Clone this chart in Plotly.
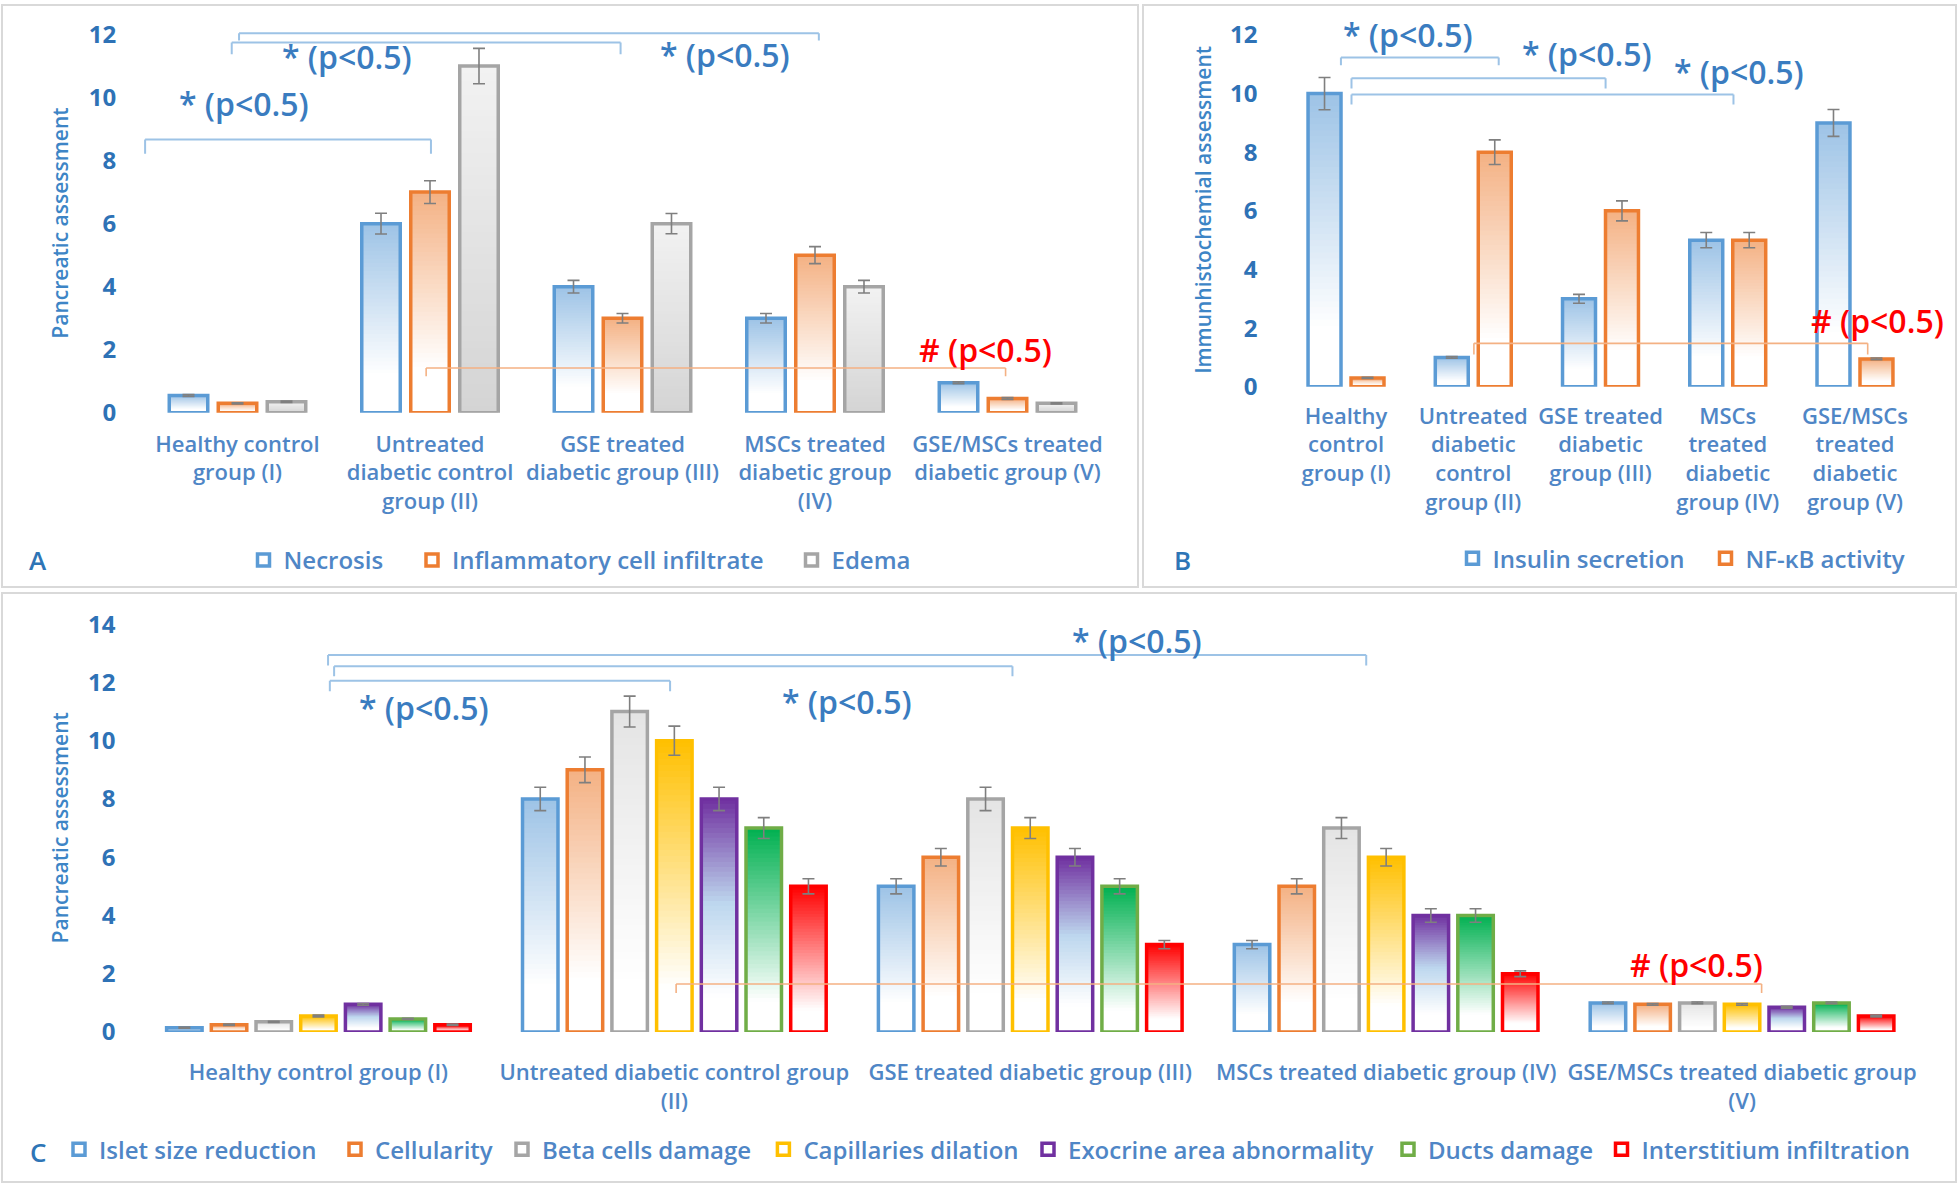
import plotly.graph_objects as go

# ---------------- data ----------------
GROUPS = ["Healthy control group (I)", "Untreated diabetic control group (II)",
          "GSE treated diabetic group (III)", "MSCs treated diabetic group (IV)",
          "GSE/MSCs treated diabetic group (V)"]

TICKS_A = ["Healthy control<br>group (I)", "Untreated<br>diabetic control<br>group (II)",
           "GSE treated<br>diabetic group (III)", "MSCs treated<br>diabetic group<br>(IV)",
           "GSE/MSCs treated<br>diabetic group (V)"]
TICKS_B = ["Healthy<br>control<br>group (I)", "Untreated<br>diabetic<br>control<br>group (II)",
           "GSE treated<br>diabetic<br>group (III)", "MSCs<br>treated<br>diabetic<br>group (IV)",
           "GSE/MSCs<br>treated<br>diabetic<br>group (V)"]
TICKS_C = ["Healthy control group (I)", "Untreated diabetic control group<br>(II)",
           "GSE treated diabetic group (III)", "MSCs treated diabetic group (IV)",
           "GSE/MSCs treated diabetic group<br>(V)"]

Y_TICKS_A = [0, 2, 4, 6, 8, 10, 12]
Y_TICKS_B = [0, 2, 4, 6, 8, 10, 12]
Y_TICKS_C = [0, 2, 4, 6, 8, 10, 12, 14]

# Panel A
SERIES_A = ["Necrosis", "Inflammatory cell infiltrate", "Edema"]
NECROSIS = [0.55, 6, 4, 3, 0.95]
NECROSIS_ERR = [0.03, 0.33, 0.2, 0.15, 0.03]
INFLAM = [0.3, 7, 3, 5, 0.45]
INFLAM_ERR = [0.02, 0.36, 0.15, 0.27, 0.03]
EDEMA = [0.35, 11, 6, 4, 0.3]
EDEMA_ERR = [0.02, 0.56, 0.32, 0.2, 0.02]

# Panel B
SERIES_B = ["Insulin secretion", "NF-κB activity"]
INSULIN = [10, 1, 3, 5, 9]
INSULIN_ERR = [0.55, 0.03, 0.15, 0.26, 0.46]
NFKB = [0.3, 8, 6, 5, 0.95]
NFKB_ERR = [0.02, 0.42, 0.34, 0.26, 0.03]

# Panel C
SERIES_C = ["Islet size reduction", "Cellularity", "Beta cells damage", "Capillaries dilation",
            "Exocrine area abnormality", "Ducts damage", "Interstitium infiltration"]
ISLET = [0.15, 8, 5, 3, 1.0]
ISLET_ERR = [0.02, 0.4, 0.26, 0.14, 0.03]
CELLULARITY = [0.25, 9, 6, 5, 0.95]
CELL_ERR = [0.02, 0.44, 0.3, 0.26, 0.03]
BETA = [0.35, 11, 8, 7, 1.0]
BETA_ERR = [0.02, 0.53, 0.4, 0.36, 0.03]
CAPILL = [0.55, 10, 7, 6, 0.95]
CAPILL_ERR = [0.03, 0.5, 0.36, 0.3, 0.03]
EXOCRINE = [0.95, 8, 6, 4, 0.85]
EXO_ERR = [0.03, 0.4, 0.3, 0.23, 0.03]
DUCTS = [0.45, 7, 5, 4, 1.0]
DUCTS_ERR = [0.02, 0.36, 0.26, 0.23, 0.03]
INTERST = [0.25, 5, 3, 2, 0.55]
INTERST_ERR = [0.02, 0.26, 0.14, 0.1, 0.03]

SIG_TEXT = "* (p&lt;0.5)"
HASH_TEXT = "# (p&lt;0.5)"

# ---------------- styles ----------------
FONT = "Open Sans"
BLUE, ORANGE, GRAY = "#5b9bd5", "#ed7d31", "#a5a5a5"
YELLOW, PURPLE, GREEN, RED = "#ffc000", "#7030a0", "#70ad47", "#ff0000"
G_BLUE = [(0, "#ffffff"), (0.2, "#ffffff"), (1, "#9dc3e6")]
G_ORANGE = [(0, "#ffffff"), (0.2, "#ffffff"), (1, "#f4b183")]
G_GRAY_A = [(0, "#d4d4d4"), (1, "#f2f2f2")]
G_GRAY_C = [(0, "#ffffff"), (0.15, "#ffffff"), (1, "#e4e4e4")]
G_YELLOW = [(0, "#ffffff"), (0.15, "#ffffff"), (1, "#ffc000")]
G_PURPLE = [(0, "#ffffff"), (0.15, "#ffffff"), (0.55, "#bdd7ee"), (1, "#7030a0")]
G_GREEN = [(0, "#ffffff"), (0.15, "#ffffff"), (1, "#00b050")]
G_RED = [(0, "#ffffff"), (0.15, "#ffffff"), (1, "#ff0000")]

TICK_NUM_COLOR = "#2e72b6"
LABEL_COLOR = "#4f86c6"
TITLE_COLOR = "#3d85c6"
SIG_COLOR = "#3a7cc0"
BRACKET_BLUE = "#9dc3e6"
BRACKET_RED = "#f4b183"


def _rgb(h):
    h = h.lstrip("#")
    return tuple(int(h[i:i + 2], 16) for i in (0, 2, 4))


def grad_color(stops, f):
    for (p0, c0), (p1, c1) in zip(stops[:-1], stops[1:]):
        if p0 <= f <= p1:
            t = 0 if p1 == p0 else (f - p0) / (p1 - p0)
            a, b = _rgb(c0), _rgb(c1)
            return "rgb(%d,%d,%d)" % tuple(round(a[i] + (b[i] - a[i]) * t) for i in range(3))
    return stops[-1][1]


fig = go.Figure()
N_SEG = 48


def add_series(name, vals, errs, line_color, stops, idx, n, slot, width, xa, ya, legend, lw=3.5):
    offset = (idx - (n - 1) / 2) * slot - width / 2
    for k in range(N_SEG):
        base = [v * k / N_SEG for v in vals]
        h = [v - b for v, b in zip(vals, base)]
        fig.add_trace(go.Bar(
            x=GROUPS, y=h, base=base, offset=offset, width=width,
            marker=dict(color=grad_color(stops, (k + 0.5) / N_SEG), line=dict(width=0)),
            xaxis=xa, yaxis=ya, showlegend=False, hoverinfo="skip"))
    fig.add_trace(go.Bar(
        x=GROUPS, y=vals, name=name, offset=offset, width=width,
        marker=dict(color="rgba(255,255,255,0)", line=dict(color=line_color, width=lw)),
        error_y=dict(type="data", array=errs, color="#7f7f7f", thickness=1.6, width=6),
        xaxis=xa, yaxis=ya, legend=legend, showlegend=True))


W, H = 1959, 1200


def px_x(p):
    return p / W


def px_y(p):
    return 1 - p / H


# one legend per entry, placed at the reference's legend-square centres
LEG_A = [(262.5, 566), (431, 566), (810.5, 566)]
LEG_B = [(1471.5, 564), (1724.5, 564)]
LEG_C = [(78, 1164), (354, 1164), (521, 1164), (782.4, 1164), (1047, 1164), (1407, 1164),
         (1620.5, 1164)]
legends = {}
leg_count = [0]


def new_legend(cx, cy):
    leg_count[0] += 1
    key = "legend" if leg_count[0] == 1 else "legend%d" % leg_count[0]
    legends[key] = dict(orientation="h", x=px_x(cx - 19), y=px_y(cy), xanchor="left",
                        yanchor="middle", bgcolor="rgba(0,0,0,0)",
                        font=dict(family=FONT, size=24, color=LABEL_COLOR, weight=600))
    return key


# Panel A
for i, (nm, v, e, c, g) in enumerate(zip(
        SERIES_A, [NECROSIS, INFLAM, EDEMA], [NECROSIS_ERR, INFLAM_ERR, EDEMA_ERR],
        [BLUE, ORANGE, GRAY], [G_BLUE, G_ORANGE, G_GRAY_A])):
    add_series(nm, v, e, c, g, i, 3, 0.2545, 0.2, "x", "y", new_legend(*LEG_A[i]))

# Panel B
for i, (nm, v, e, c, g) in enumerate(zip(
        SERIES_B, [INSULIN, NFKB], [INSULIN_ERR, NFKB_ERR], [BLUE, ORANGE], [G_BLUE, G_ORANGE])):
    add_series(nm, v, e, c, g, i, 2, 0.3378, 0.259, "x2", "y2", new_legend(*LEG_B[i]))

# Panel C
for i, (nm, v, e, c, g) in enumerate(zip(
        SERIES_C, [ISLET, CELLULARITY, BETA, CAPILL, EXOCRINE, DUCTS, INTERST],
        [ISLET_ERR, CELL_ERR, BETA_ERR, CAPILL_ERR, EXO_ERR, DUCTS_ERR, INTERST_ERR],
        [BLUE, ORANGE, GRAY, YELLOW, PURPLE, GREEN, RED],
        [G_BLUE, G_ORANGE, G_GRAY_C, G_YELLOW, G_PURPLE, G_GREEN, G_RED])):
    add_series(nm, v, e, c, g, i, 7, 0.1256, 0.0997, "x3", "y3", new_legend(*LEG_C[i]))


def xaxis(domain, anchor, ticks, standoff):
    return dict(domain=domain, anchor=anchor, type="category", range=[-0.5, 4.5],
                tickmode="array", tickvals=GROUPS, ticktext=ticks,
                showgrid=False, zeroline=False, showline=False, ticks="",
                ticklabelstandoff=standoff,
                tickfont=dict(family=FONT, size=22, color=LABEL_COLOR, weight=600))


def yaxis(domain, anchor, rng, tickvals, standoff):
    return dict(domain=domain, anchor=anchor, range=rng, tickmode="array", tickvals=tickvals,
                showgrid=False, zeroline=False, showline=False, ticks="",
                ticklabelstandoff=standoff,
                tickfont=dict(family=FONT, size=24, color=TICK_NUM_COLOR, weight=700))


shapes = []
# panel frames
for x0, y0, x1, y1 in [(2, 2, 1138, 593), (1143, 2, 1956, 593), (2, 599, 1956, 1197)]:
    shapes.append(dict(type="rect", xref="paper", yref="paper",
                       x0=px_x(x0), x1=px_x(x1), y0=px_y(y1), y1=px_y(y0),
                       line=dict(color="#d9d9d9", width=2), layer="below"))

# significance brackets: (xref, yref, x0, x1, y, y_tick_end, color)
BRACKETS = [
    ("x", "y", -0.48, 1.005, 8.67, 8.22, BRACKET_BLUE),
    ("x", "y", -0.03, 1.99, 11.75, 11.375, BRACKET_BLUE),
    ("x", "y", 0.008, 3.02, 12.04, 11.81, BRACKET_BLUE),
    ("x", "y", 0.98, 3.99, 1.42, 1.16, BRACKET_RED),
    ("x2", "y2", -0.04, 1.20, 11.23, 10.97, BRACKET_BLUE),
    ("x2", "y2", 0.043, 2.04, 10.52, 10.17, BRACKET_BLUE),
    ("x2", "y2", 0.043, 3.045, 9.97, 9.63, BRACKET_BLUE),
    ("x2", "y2", 1.005, 4.10, 1.48, 1.1, BRACKET_RED),
    ("x3", "y3", 0.027, 2.944, 12.94, 12.58, BRACKET_BLUE),
    ("x3", "y3", 0.044, 1.95, 12.55, 12.21, BRACKET_BLUE),
    ("x3", "y3", 0.032, 0.988, 12.06, 11.70, BRACKET_BLUE),
    ("x3", "y3", 1.005, 4.055, 1.65, 1.34, BRACKET_RED),
]
for xr, yr, x0, x1, y, yt, col in BRACKETS:
    lw = 2 if col == BRACKET_BLUE else 1.6
    for seg in [(x0, yt, x0, y), (x0, y, x1, y), (x1, y, x1, yt)]:
        shapes.append(dict(type="line", xref=xr, yref=yr, x0=seg[0], y0=seg[1],
                           x1=seg[2], y1=seg[3], line=dict(color=col, width=lw)))

annotations = []
# significance labels
SIG_LABELS = [
    ("x", "y", 0.036, 9.82, SIG_TEXT, SIG_COLOR),
    ("x", "y", 0.569, 11.3, SIG_TEXT, SIG_COLOR),
    ("x", "y", 2.53, 11.38, SIG_TEXT, SIG_COLOR),
    ("x", "y", 3.886, 2.0, HASH_TEXT, "#ff0000"),
    ("x2", "y2", 0.49, 12.02, SIG_TEXT, SIG_COLOR),
    ("x2", "y2", 1.89, 11.37, SIG_TEXT, SIG_COLOR),
    ("x2", "y2", 3.087, 10.76, SIG_TEXT, SIG_COLOR),
    ("x2", "y2", 4.175, 2.25, HASH_TEXT, "#ff0000"),
    ("x3", "y3", 0.296, 11.13, SIG_TEXT, SIG_COLOR),
    ("x3", "y3", 1.486, 11.33, SIG_TEXT, SIG_COLOR),
    ("x3", "y3", 2.301, 13.43, SIG_TEXT, SIG_COLOR),
    ("x3", "y3", 3.873, 2.33, HASH_TEXT, "#ff0000"),
]
for xr, yr, x, y, t, col in SIG_LABELS:
    annotations.append(dict(xref=xr, yref=yr, x=x, y=y, text=t, showarrow=False,
                            xanchor="center", yanchor="middle",
                            font=dict(family=FONT, size=32, color=col, weight=600)))

# axis titles
for x, y, t in [(60, 224, "Pancreatic assessment"), (1203, 210, "Immunhistochemial assessment"),
                (60, 838, "Pancreatic assessment")]:
    annotations.append(dict(xref="paper", yref="paper", x=px_x(x), y=px_y(y), text=t,
                            textangle=-90, showarrow=False, xanchor="center", yanchor="middle",
                            font=dict(family=FONT, size=21, color=TITLE_COLOR, weight=600)))

# panel letters
for x, y, t in [(38, 565, "A"), (1182, 565, "B"), (38, 1166, "C")]:
    annotations.append(dict(xref="paper", yref="paper", x=px_x(x), y=px_y(y), text=t,
                            showarrow=False, xanchor="center", yanchor="middle",
                            font=dict(family=FONT, size=26, color="#2e75b6", weight=600)))

fig.update_layout(
    width=W, height=H, margin=dict(l=0, r=0, t=0, b=0),
    paper_bgcolor="white", plot_bgcolor="white", barmode="overlay",
    font=dict(family=FONT),
    xaxis=xaxis([px_x(141.25), px_x(1103.75)], "y", TICKS_A, 16),
    yaxis=yaxis([px_y(416), px_y(12.8)], "x", [0, 12.6], Y_TICKS_A, 24),
    xaxis2=xaxis([px_x(1282.4), px_x(1918.6)], "y2", TICKS_B, 14),
    yaxis2=yaxis([px_y(389.6), px_y(14.6)], "x2", [0, 12.6], Y_TICKS_B, 24),
    xaxis3=xaxis([px_x(140.5), px_x(1920)], "y3", TICKS_C, 25),
    yaxis3=yaxis([px_y(1044.7), px_y(615.8)], "x3", [0, 14.5], Y_TICKS_C, 24),
    shapes=shapes, annotations=annotations, showlegend=True,
    **legends,
)

fig.write_html("out.html", post_script="document.body.style.margin='0';",
               config={"displayModeBar": False})
